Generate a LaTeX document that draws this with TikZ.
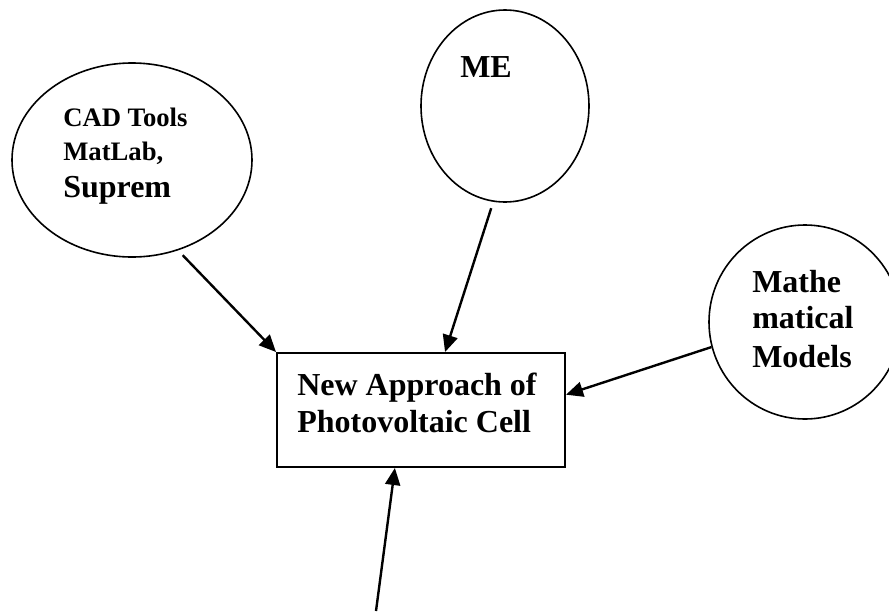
\documentclass[tikz,border=0pt]{standalone}
\usepackage{fontspec}
\setmainfont{Liberation Serif}
\usetikzlibrary{shapes.geometric,arrows.meta,calc}
\begin{document}
\begin{tikzpicture}[x=0.75pt,y=-0.75pt,
  oval/.style={draw, ellipse, line width=1.2pt, inner sep=0pt},
  link/.style={line width=1.8pt, -{Triangle[length=12.75pt,width=11.25pt]}},
  lbl/.style={anchor=base west, inner sep=0pt, font=\bfseries}]
\useasboundingbox (0,0) rectangle (889,611);
\clip (0,0) rectangle (889,611);
\node[oval, minimum width=180pt, minimum height=145.5pt] (cad) at (132,160) {};
\node[oval, minimum width=126pt, minimum height=144pt] (me) at (505,106) {};
\node[oval, minimum width=144pt, minimum height=145.5pt] (math) at (805,322) {};
\node[draw, line width=1.5pt, minimum width=216pt, minimum height=85.5pt, inner sep=0pt] (box) at (421,410) {};
\node[lbl] (cadtext) at (63,126) {\fontsize{20}{25.5}\selectfont\begin{tabular}[t]{@{}l@{}}CAD Tools\\MatLab,\\[2.25pt]\fontsize{24}{27}\selectfont Suprem\end{tabular}};
\node[lbl] (metext) at (460,77) {\fontsize{24}{27}\selectfont ME};
\node[lbl] (mathtext) at (752,292) {\fontsize{24}{27}\selectfont\begin{tabular}[t]{@{}l@{}}Mathe\\matical\\[2.25pt]Models\end{tabular}};
\node[lbl] (boxtext) at (297,395) {\fontsize{24}{27.75}\selectfont\begin{tabular}[t]{@{}l@{}}New Approach of\\Photovoltaic Cell\end{tabular}};
\coordinate (src) at (376,611);
\draw[link, shorten <=5pt] (cad.-63) -- (box.north west);
\draw[link, shorten <=5pt] (me.-97) -- ($(box.north west)!0.583!(box.north east)$);
\draw[link] (math.195) -- ($(box.north east)!0.368!(box.south east)$);
\draw[link] (src) -- ($(box.south west)!0.41!(box.south east)$);
\end{tikzpicture}
\end{document}
